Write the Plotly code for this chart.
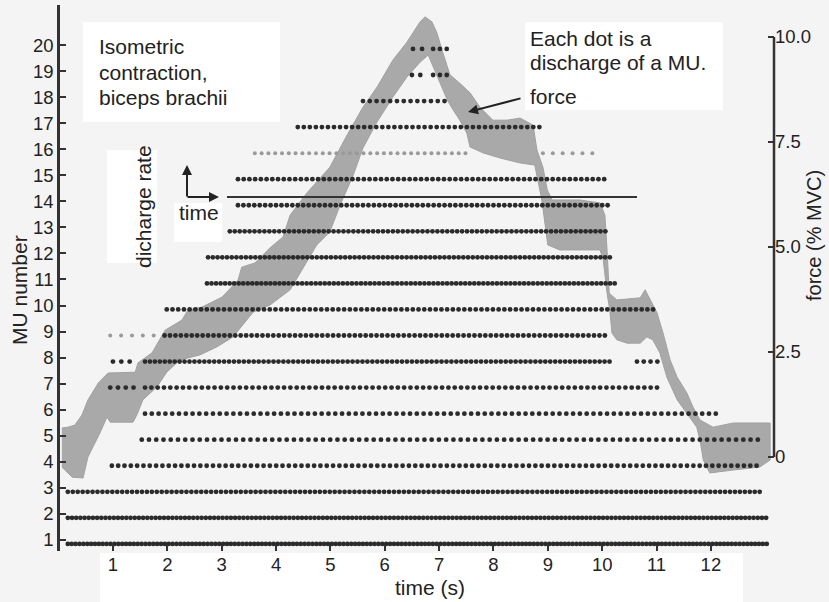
import numpy as np
import plotly.graph_objects as go

# ---------------- data ----------------
# force trace (% MVC): upper and lower edges of the plotted gray band
force_upper_t = [0.06, 0.17, 0.30, 0.43, 0.54, 0.73, 0.91, 1.41, 1.46, 1.72, 1.96, 2.27, 2.38, 2.64,
                 3.01, 3.30, 3.37, 3.61, 3.89, 4.13, 4.26, 4.57, 4.99, 5.31, 5.60, 5.86, 6.15, 6.41,
                 6.65, 6.74, 6.87, 6.96, 7.07, 7.20, 7.38, 7.57, 7.75, 7.99, 8.25, 8.49, 8.73, 8.80,
                 8.91, 8.99, 9.08, 9.59, 9.96, 10.05, 10.09, 10.13, 10.27, 10.70, 10.79, 10.88,
                 11.01, 11.12, 11.25, 11.38, 11.56, 11.67, 11.80, 12.04, 12.41, 12.90, 13.09]
force_upper = [0.69, 0.71, 0.76, 1.00, 1.36, 1.76, 2.00, 2.02, 2.24, 2.48, 3.02, 3.26, 3.50, 3.57,
               3.81, 4.21, 4.52, 4.62, 4.98, 5.24, 5.76, 6.29, 6.90, 7.67, 8.33, 8.81, 9.45, 9.88,
               10.36, 10.48, 10.36, 10.10, 9.62, 9.10, 8.90, 8.67, 8.33, 8.02, 8.02, 8.07, 7.90, 7.31,
               6.90, 6.36, 6.12, 6.12, 6.05, 5.76, 4.93, 3.90, 3.74, 3.79, 3.98, 3.74,
               3.43, 2.95, 2.31, 1.90, 1.52, 1.19, 0.88, 0.71, 0.81, 0.81, 0.81]
force_lower_t = [0.06, 0.25, 0.45, 0.54, 0.76, 0.89, 0.95, 1.37, 1.44, 1.55, 1.81, 1.99, 2.23, 2.60,
                 2.91, 3.21, 3.58, 3.89, 4.26, 4.53, 4.75, 4.99, 5.18, 5.42, 5.60, 5.86, 6.15, 6.41,
                 6.65, 6.80, 6.89, 7.02, 7.15, 7.26, 7.38, 7.51, 7.57, 7.81, 8.12, 8.49, 8.76, 8.89,
                 9.00, 9.22, 9.96, 10.02, 10.09, 10.14, 10.18, 10.27, 10.46, 10.70, 10.82, 10.93,
                 11.06, 11.19, 11.38, 11.56, 11.74, 11.80, 11.86, 11.98, 12.41, 12.90, 13.09]
force_lower = [-0.24, -0.48, -0.50, 0.00, 0.57, 0.95, 0.83, 0.83, 1.00, 1.36, 1.67, 2.02, 2.31, 2.43,
               2.62, 2.86, 3.45, 3.62, 3.98, 4.57, 5.05, 5.36, 6.00, 6.71, 7.36, 7.98, 8.57, 9.05,
               9.40, 9.57, 9.29, 8.90, 8.50, 8.26, 8.02, 7.71, 7.38, 7.24, 7.12, 7.00, 6.95, 6.12,
               5.05, 4.93, 4.93, 4.69, 3.90, 3.50, 2.95, 2.79, 2.71, 2.71, 2.86, 2.79,
               2.48, 1.90, 1.36, 1.05, 0.71, 0.40, -0.07, -0.38, -0.31, -0.24, -0.07]

# motor-unit discharge trains: one entry per firing segment
seg_mu    = [1, 2, 3, 4, 5, 6, 7, 7, 8, 8, 8, 9, 9, 10, 11, 12, 13, 14, 15, 16, 16, 17, 18, 19, 19, 20, 20]
seg_start = [0.17, 0.17, 0.17, 0.98, 1.53, 1.59, 0.95, 1.59, 1.00, 1.59, 10.64, 0.95, 1.95, 1.99, 2.73,
             2.75, 3.15, 3.30, 3.30, 3.61, 8.91, 4.40, 5.60, 6.50, 6.89, 6.52, 6.89]
seg_end   = [13.05, 13.03, 12.94, 12.94, 12.96, 12.11, 1.44, 11.03, 1.32, 10.20, 11.03, 1.80, 10.14, 11.01,
             10.29, 10.18, 10.14, 10.11, 10.14, 7.57, 9.96, 8.91, 7.15, 6.66, 7.15, 6.69, 7.15]
seg_rate  = [14, 13, 11, 8.6, 7.5, 8, 7, 8.6, 6.5, 11, 8, 5, 10, 9.5, 12, 11.5, 11, 10, 9.5, 8, 5.5,
             9, 8, 6.5, 8, 6, 8]
seg_faint = [0, 0, 0, 0, 0, 0, 0, 0, 0, 0, 0, 1, 0, 0, 0, 0, 0, 0, 0, 1, 1, 0, 0, 0, 0, 0, 0]

mu_ticks = list(range(1, 21))
force_ticks = [0, 2.5, 5.0, 7.5, 10.0]
force_ticktext = ["0", "2.5", "5.0", "7.5", "10.0"]
time_ticks = list(range(1, 13))

# ---------------- figure ----------------
W, H = 829, 602
ML, MR, MT, MB = 60, 55, 5, 51
PW, PH = W - ML - MR, H - MT - MB
FONT = "Liberation Sans, Arial, Helvetica, sans-serif"
INK = "#222222"
BG = "#f4f4f4"


def pxx(x):
    return (x - ML) / PW


def pxy(y):
    return (H - MB - y) / PH


fig = go.Figure()

# force band (on force axis, drawn first)
band_t = force_upper_t + force_lower_t[::-1]
band_f = force_upper + force_lower[::-1]
fig.add_trace(go.Scatter(x=band_t, y=band_f, mode="lines", fill="toself",
                         fillcolor="#a9a9a9", line=dict(color="#a2a2a2", width=1),
                         yaxis="y", hoverinfo="skip", showlegend=False))

# discharge dots (on MU axis)
for faint in (1, 0):
    xs, ys = [], []
    for mu, s, e, r, f in zip(seg_mu, seg_start, seg_end, seg_rate, seg_faint):
        if f != faint:
            continue
        times = np.arange(s, e + 1e-6, 1.0 / r)
        xs.extend(times.tolist())
        ys.extend([mu - 0.15] * len(times))
    fig.add_trace(go.Scatter(x=xs, y=ys, mode="markers", yaxis="y2",
                             marker=dict(size=4.8 if not faint else 4,
                                         color="#9a9a9a" if faint else "#2b2b2b",
                                         line=dict(width=0)),
                             hoverinfo="skip", showlegend=False))

shapes = []
# white boxes behind text
for (x0, y0, x1, y1) in [(83, 22, 280, 122), (107, 150, 157, 263), (174, 203, 222, 242),
                         (525, 22, 723, 110), (100, 553, 743, 602)]:
    shapes.append(dict(type="rect", xref="paper", yref="paper", x0=pxx(x0), x1=pxx(x1),
                       y0=pxy(y1), y1=pxy(y0), fillcolor="white", line=dict(width=0), layer="below"))
# right force axis line (only 0..10)
shapes.append(dict(type="line", xref="paper", yref="y", x0=1, x1=1, y0=0, y1=10,
                   line=dict(color="#333", width=2.5)))
# long reference line
shapes.append(dict(type="line", xref="paper", yref="paper", x0=pxx(227), x1=pxx(637),
                   y0=pxy(197), y1=pxy(197), line=dict(color="#333", width=2)))

ann = []


def text(x, y, s, size=21, angle=0, xanchor="left"):
    ann.append(dict(x=pxx(x), y=pxy(y), xref="paper", yref="paper", text=s, showarrow=False,
                    xanchor=xanchor, yanchor="middle", textangle=angle,
                    font=dict(family=FONT, size=size, color=INK)))


text(97, 47, "Isometric")
text(97, 72, "contraction,")
text(97, 98, "biceps brachii")
text(528, 38, "Each dot is a")
text(528, 63, "discharge of a MU.")
text(528, 97, "force")
text(143, 207, "dicharge rate", angle=-90, xanchor="center")
text(199, 212, "time", xanchor="center")
text(20, 290, "MU number", angle=-90, xanchor="center")
text(814, 236, "force (% MVC)", size=20, angle=-90, xanchor="center")
text(430, 587, "time (s)", xanchor="center")


def arrow(hx, hy, tx, ty):
    ann.append(dict(x=pxx(hx), y=pxy(hy), xref="paper", yref="paper", text="",
                    showarrow=True, ax=tx - hx, ay=ty - hy, axref="pixel", ayref="pixel",
                    arrowhead=2, arrowsize=1, arrowwidth=2, arrowcolor="#222"))


arrow(468, 112, 522, 98)
arrow(187, 165, 187, 198)
arrow(219, 197, 186, 197)

tickfont = dict(family=FONT, size=18.5, color=INK)
fig.update_layout(
    width=W, height=H,
    margin=dict(l=ML, r=MR, t=MT, b=MB, pad=0),
    paper_bgcolor=BG, plot_bgcolor="rgba(0,0,0,0)",
    showlegend=False,
    xaxis=dict(range=[0.026, 13.161], tickvals=time_ticks, ticks="inside", ticklen=6,
               tickwidth=2, tickcolor="#333", showline=False, showgrid=False, zeroline=False,
               tickfont=tickfont),
    yaxis=dict(side="right", range=[-2.238, 10.762], tickvals=force_ticks, ticktext=force_ticktext,
               ticks="inside", ticklen=6, tickwidth=2, tickcolor="#333", showline=False,
               showgrid=False, zeroline=False, tickfont=tickfont),
    yaxis2=dict(overlaying="y", side="left", range=[0.578, 21.536], tickvals=mu_ticks,
                ticks="inside", ticklen=6, tickwidth=2, tickcolor="#333", showline=True,
                linewidth=2.5, linecolor="#333", showgrid=False, zeroline=False,
                tickfont=tickfont),
    shapes=shapes, annotations=ann,
)

fig.write_html("out.html")
